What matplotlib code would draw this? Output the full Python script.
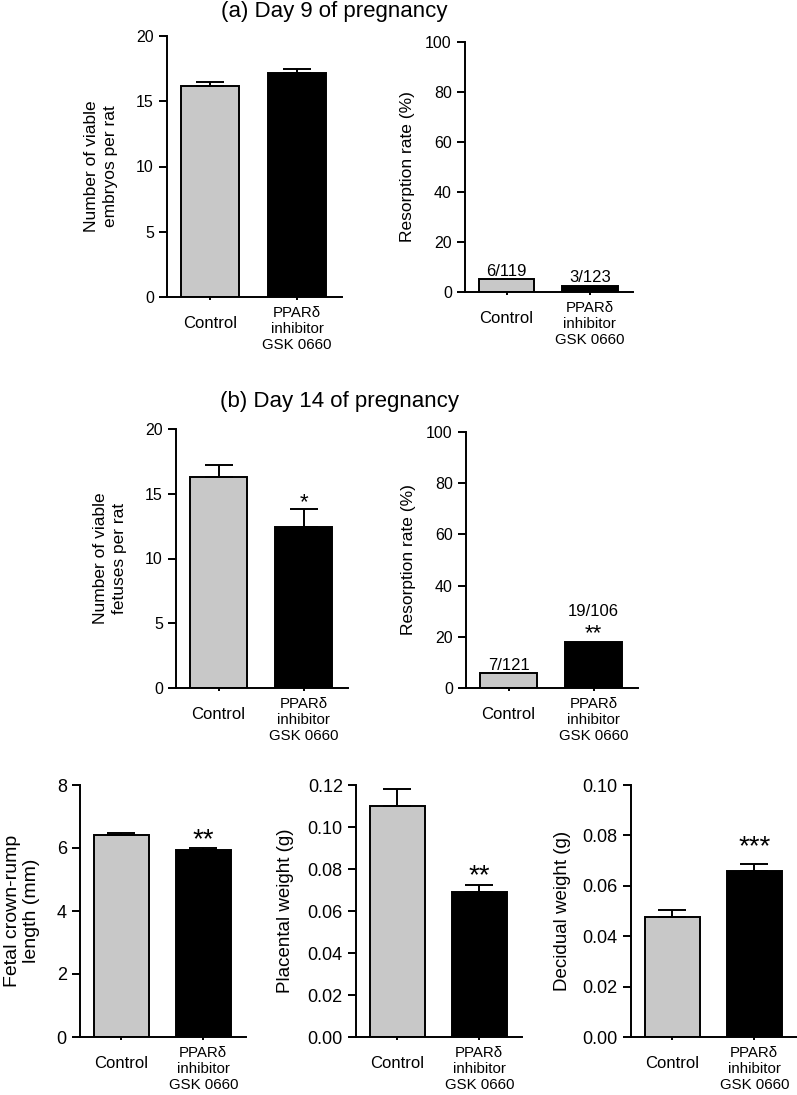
import matplotlib
matplotlib.use('Agg')
import matplotlib.pyplot as plt
from matplotlib.ticker import MultipleLocator, FormatStrFormatter

plt.rcParams['font.family'] = ['Liberation Sans', 'DejaVu Sans']

groups = ['Control', 'PPARδ\ninhibitor\nGSK 0660']
bar_colors = ['#c8c8c8', 'black']

# (a) Day 9 of pregnancy
embryos_d9 = [16.15, 17.2]
embryos_d9_sem = [0.35, 0.3]
resorbed_d9 = [6, 3]
implants_d9 = [119, 123]

# (b) Day 14 of pregnancy
fetuses_d14 = [16.3, 12.4]
fetuses_d14_sem = [0.9, 1.4]
resorbed_d14 = [7, 19]
implants_d14 = [121, 106]

crown_rump = [6.41, 5.95]
crown_rump_sem = [0.07, 0.05]
placenta = [0.110, 0.069]
placenta_sem = [0.008, 0.0036]
decidua = [0.0477, 0.0658]
decidua_sem = [0.0026, 0.0028]

stars_fetuses = ['', '*']
stars_resorb_d14 = ['', '**']
stars_crown = ['', '**']
stars_placenta = ['', '**']
stars_decidua = ['', '***']

W, H = 797, 1095
LW = 1.4
fig = plt.figure(figsize=(W / 100, H / 100), dpi=100)


def rect(x0, x1, ytop, y0):
    return [x0 / W, 1 - y0 / H, (x1 - x0) / W, (y0 - ytop) / H]


def panel(r, values, ymax, step, ylabel, label_x, sem=None, tick_fs=11.5,
          label_fs=12.5, fmt='%d', ls=1.35):
    ax = fig.add_axes(r)
    x = list(range(len(values)))
    ax.bar(x, values, width=0.67, color=bar_colors, edgecolor='black',
           linewidth=LW, zorder=2)
    if sem is not None:
        ax.errorbar(x, values, yerr=[[0] * len(sem), sem], fmt='none',
                    ecolor='black', elinewidth=LW, capsize=10,
                    capthick=LW, zorder=3)
    ax.set_xlim(-0.5, 1.52)
    ax.set_ylim(0, ymax)
    ax.yaxis.set_major_locator(MultipleLocator(step))
    ax.yaxis.set_major_formatter(FormatStrFormatter(fmt))
    for s in ['top', 'right']:
        ax.spines[s].set_visible(False)
    for s in ['left', 'bottom']:
        ax.spines[s].set_linewidth(LW)
    ax.tick_params(axis='y', length=5.5, width=LW, pad=4,
                   labelsize=tick_fs)
    ax.set_xticks(x)
    ax.set_xticklabels([])
    ax.tick_params(axis='x', length=2, width=LW)
    ax.set_ylabel(ylabel, fontsize=label_fs, linespacing=ls)
    ax.yaxis.set_label_coords(label_x, 0.5)
    # category labels under the axis
    ax.annotate(groups[0], (0, 0), xycoords=('data', 'axes fraction'),
                xytext=(0, -19), textcoords='offset points',
                ha='center', va='center', fontsize=12)
    ax.annotate(groups[1], (1, 0), xycoords=('data', 'axes fraction'),
                xytext=(0, -23), textcoords='offset points',
                ha='center', va='center', fontsize=10.8, linespacing=1.2)
    return ax


def add_stars(ax, values, sem, stars, fs, off):
    for i, (v, e, s) in enumerate(zip(values, sem, stars)):
        if s:
            ax.annotate(s, (i, v + e), xytext=(0, off),
                        textcoords='offset points', ha='center',
                        va='baseline', fontsize=fs)


def add_counts(ax, resorbed, implants, rates, offs):
    for i, (r, n, v) in enumerate(zip(resorbed, implants, rates)):
        ax.annotate(f'{r}/{n}', (i, v), xytext=(0, offs[i]),
                    textcoords='offset points', ha='center', va='baseline',
                    fontsize=12)


# (a) Day 9
fig.text(334 / W, 1 - 12 / H, '(a) Day 9 of pregnancy', ha='center',
         va='center', fontsize=16)

ax = panel(rect(167, 342, 36, 297), embryos_d9, 20, 5,
           'Number of viable\nembryos per rat', -0.28, sem=embryos_d9_sem)

rates_d9 = [100 * r / n for r, n in zip(resorbed_d9, implants_d9)]
ax = panel(rect(465, 633, 42, 292), rates_d9, 100, 20,
           'Resorption rate (%)', -0.298)
add_counts(ax, resorbed_d9, implants_d9, rates_d9, [2.5, 2.5])

# (b) Day 14
fig.text(340 / W, 1 - 401 / H, '(b) Day 14 of pregnancy', ha='center',
         va='center', fontsize=16)

ax = panel(rect(176, 348, 429, 688), fetuses_d14, 20, 5,
           'Number of viable\nfetuses per rat', -0.285, sem=fetuses_d14_sem)
add_stars(ax, fetuses_d14, fetuses_d14_sem, stars_fetuses, 16, 1)

rates_d14 = [100 * r / n for r, n in zip(resorbed_d14, implants_d14)]
ax = panel(rect(466, 638, 432, 688), rates_d14, 100, 20,
           'Resorption rate (%)', -0.29)
add_counts(ax, resorbed_d14, implants_d14, rates_d14, [2.5, 18.7])
add_stars(ax, rates_d14, [0, 0], stars_resorb_d14, 16, 2.3)

ax = panel(rect(80, 246, 785, 1037), crown_rump, 8, 2,
           'Fetal crown-rump\nlength (mm)', -0.24, sem=crown_rump_sem,
           tick_fs=13, label_fs=14, fmt='%d', ls=1.2)
add_stars(ax, crown_rump, crown_rump_sem, stars_crown, 20, 0.5)

ax = panel(rect(356, 522, 785, 1037), placenta, 0.12, 0.02,
           'Placental weight (g)', -0.373, sem=placenta_sem,
           tick_fs=13, label_fs=13.5, fmt='%.2f')
add_stars(ax, placenta, placenta_sem, stars_placenta, 20, 1.2)

ax = panel(rect(631, 797, 785, 1037), decidua, 0.10, 0.02,
           'Decidual weight (g)', -0.36, sem=decidua_sem,
           tick_fs=13, label_fs=13.5, fmt='%.2f')
add_stars(ax, decidua, decidua_sem, stars_decidua, 20, 7)

fig.savefig('out.png', dpi=100)
